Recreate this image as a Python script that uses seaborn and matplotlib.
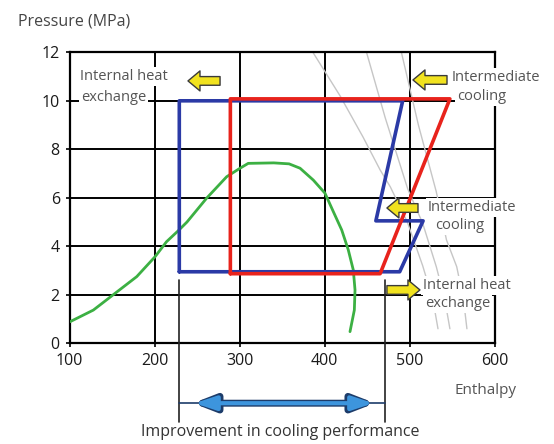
import matplotlib

matplotlib.use("Agg")
import matplotlib.pyplot as plt
import seaborn as sns

# x ticks / y ticks
h_ticks = [100, 200, 300, 400, 500, 600]
p_ticks = [0, 2, 4, 6, 8, 10, 12]

# red cycle (enthalpy, pressure MPa)
red_h = [289, 289, 547, 465, 289]
red_p = [2.87, 10.08, 10.08, 2.87, 2.87]

# blue cycle with intermediate cooling + internal heat exchange
blue_h = [229, 229, 491.5, 460, 515.5, 488, 229]
blue_p = [2.95, 10.0, 10.0, 5.05, 5.05, 2.95, 2.95]

# saturation dome
dome_h = [100.6, 128, 153.5, 179, 200.5, 214, 228, 238, 261, 284.7, 300.4, 310,
          340, 358, 370.9, 386.5, 400.2, 410, 419.9, 427.6, 433.5, 435.5, 434.7, 429.6]
dome_p = [0.89, 1.37, 2.06, 2.75, 3.57, 4.19, 4.65, 5.0, 5.98, 6.87, 7.22, 7.42,
          7.44, 7.40, 7.22, 6.73, 6.19, 5.43, 4.67, 3.85, 3.02, 2.2, 1.37, 0.48]

# isotherms (faint background lines)
iso1_h = [386, 418, 445, 465, 477, 497, 515, 527, 533]
iso1_p = [12, 10.2, 8.5, 7.15, 6.45, 5.0, 3.2, 1.8, 0.6]
iso2_h = [449, 471, 497.5, 515, 531, 541, 547]
iso2_p = [12, 9.3, 6.36, 4.95, 3.16, 1.8, 0.6]
iso3_h = [490, 510, 531, 543, 555, 563, 567]
iso3_p = [12, 9.0, 6.25, 4.26, 3.16, 1.8, 0.6]

improve_from = 229
improve_to = 471

sns.set_theme(style="white")
plt.rcParams["font.family"] = ["Open Sans", "DejaVu Sans"]

fig = plt.figure(figsize=(5.54, 4.44), dpi=100)
ax = fig.add_axes([0.1255, 0.2268, 0.768, 0.6554])

for hh, pp in [(iso1_h, iso1_p), (iso2_h, iso2_p), (iso3_h, iso3_p)]:
    sns.lineplot(x=hh, y=pp, sort=False, estimator=None, ax=ax,
                 color="#c6c6c6", lw=1.0, zorder=2)

sns.lineplot(x=dome_h, y=dome_p, sort=False, estimator=None, ax=ax,
             color="#3cb043", lw=2.0, zorder=5)
sns.lineplot(x=blue_h, y=blue_p, sort=False, estimator=None, ax=ax,
             color="#2b3aa6", lw=2.6, zorder=6)
sns.lineplot(x=red_h, y=red_p, sort=False, estimator=None, ax=ax,
             color="#e8231c", lw=2.6, zorder=6)

ax.set_xlim(100, 600)
ax.set_ylim(0, 12)
ax.set_xticks(h_ticks)
ax.set_yticks(p_ticks)
ax.grid(True, color="black", lw=1.4)
ax.set_axisbelow(True)
for s in ax.spines.values():
    s.set_color("black")
    s.set_linewidth(1.6)
ax.tick_params(length=3, width=1.2, color="black", labelsize=11.5,
               labelcolor="#1a1a1a", pad=4, left=True, bottom=True)
ax.set_xlabel("")
ax.set_ylabel("")

box = dict(fc="white", ec="none", pad=1.5)
lab = dict(fontsize=10.5, color="#555555", ha="left", va="center", bbox=box, zorder=4)
ax.text(112.3, 11.02, "Internal heat", **lab)
ax.text(113.5, 10.14, "exchange", **lab)
ax.text(549.4, 10.96, "Intermediate", **lab)
ax.text(555.3, 10.16, "cooling", **lab)
ax.text(521.3, 5.6, "Intermediate", **lab)
ax.text(529.5, 4.84, "cooling", **lab)
ax.text(515.4, 2.38, "Internal heat", **lab)
ax.text(517.7, 1.66, "exchange", **lab)

yellow = dict(arrowstyle="simple,head_length=0.72,head_width=1.2,tail_width=0.52",
              fc="#f1e21f", ec="#3a3a3a", lw=1.0, mutation_scale=12,
              shrinkA=0, shrinkB=0)
for tail, head, y in [(276.9, 239.2, 10.82), (543.6, 503.6, 10.86),
                      (509.5, 473.0, 5.58), (473.0, 511.8, 2.2)]:
    ax.annotate("", xy=(head, y), xytext=(tail, y), arrowprops=yellow,
                annotation_clip=False, zorder=7)

# improvement bracket below the axis
for x in [improve_from, improve_to]:
    ax.plot([x, x], [2.6, -3.25], color="#222222", lw=1.2, clip_on=False, zorder=3)
ya = -2.47
ax.plot([improve_from, improve_to], [ya, ya], color="#1d3c6a", lw=1.2,
        clip_on=False, zorder=3)
ax.annotate("", xy=(245, ya), xytext=(459, ya), annotation_clip=False,
            arrowprops=dict(arrowstyle="<|-|>,head_length=0.9,head_width=0.35",
                            color="#1d3c6a", lw=5, mutation_scale=14,
                            shrinkA=0, shrinkB=0))
ax.annotate("", xy=(247, ya), xytext=(457, ya), annotation_clip=False,
            arrowprops=dict(arrowstyle="<|-|>,head_length=0.9,head_width=0.3",
                            color="#3d95dd", lw=3, mutation_scale=14,
                            shrinkA=0, shrinkB=0))
ax.text(348, -3.66, "Improvement in cooling performance", fontsize=11.5,
        color="#333333", ha="center", va="center", clip_on=False)

fig.text(18 / 554, 1 - 22 / 444, "Pressure (MPa)", fontsize=11.5,
         color="#444444", ha="left", va="center")
fig.text(455 / 554, 1 - 390 / 444, "Enthalpy", fontsize=11,
         color="#555555", ha="left", va="center")

fig.savefig("out.png", dpi=100)
